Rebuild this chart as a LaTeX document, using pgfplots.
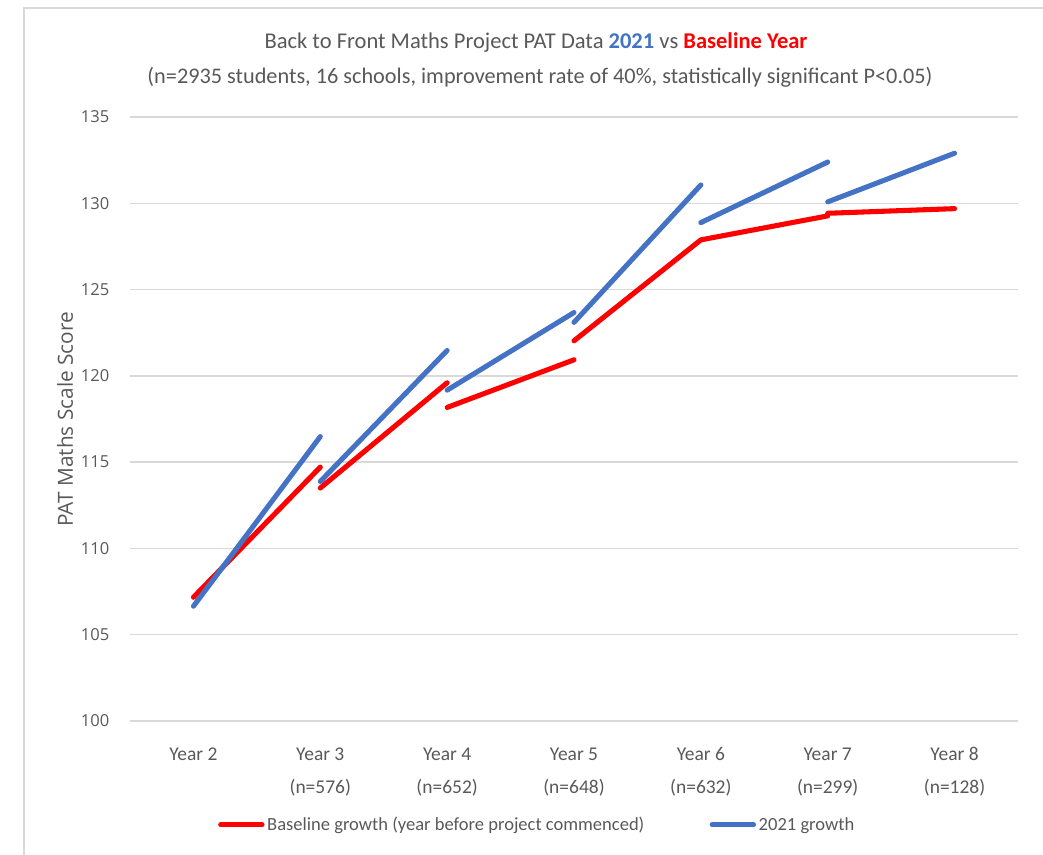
\documentclass[border=0pt]{standalone}
\usepackage{fontspec}
\setmainfont{Carlito}
\newfontfamily\osans{Open Sans}
\usepackage{pgfplots}
\usepackage{pgfplotstable}
\pgfplotsset{compat=1.18}
\definecolor{txtgray}{HTML}{595959}
\definecolor{gridgray}{HTML}{D9D9D9}
\definecolor{xlblue}{HTML}{4472C4}
\definecolor{xlred}{HTML}{FF0000}

\pgfplotstableread{
x y
0 107.17
1 114.71
nan nan
1 113.50
2 119.60
nan nan
2 118.17
3 120.93
nan nan
3 122.03
4 127.88
5 129.27
nan nan
5 129.42
6 129.69
}\baseline

\pgfplotstableread{
x y
0 106.65
1 116.48
nan nan
1 113.88
2 121.47
nan nan
2 119.17
3 123.67
nan nan
3 123.10
4 131.06
nan nan
4 128.88
5 132.39
nan nan
5 130.08
6 132.90
}\growth

\begin{document}
\begin{tikzpicture}
\useasboundingbox (0pt,0pt) rectangle (782.25pt,640.5pt);
\draw[gridgray, line width=0.9pt] (18pt,-10pt) -- (18pt,634.5pt) -- (800pt,634.5pt);
\begin{axis}[
  at={(97.5pt,99.75pt)}, anchor=south west,
  scale only axis,
  width=666pt, height=453pt,
  xmin=-0.5, xmax=6.5,
  ymin=100, ymax=135,
  ytick distance=5,
  xtick={0,1,2,3,4,5,6},
  xticklabels={\strut Year 2\\\mbox{}, \strut Year 3\\(n=576), \strut Year 4\\(n=652), \strut Year 5\\(n=648), \strut Year 6\\(n=632), \strut Year 7\\(n=299), \strut Year 8\\(n=128)},
  x tick label style={align=center, font=\fontsize{14.6}{25}\selectfont, text=txtgray, anchor=north, yshift=-8.3pt},
  y tick label style={font=\osans\fontsize{12.4}{14}\selectfont, text=txtgray, xshift=-12pt},
  /pgf/number format/assume math mode=true,
  axis line style={draw=none},
  tick style={draw=none},
  ymajorgrids,
  grid style={gridgray, line width=1.1pt},
  unbounded coords=jump,
  legend columns=2,
  legend style={draw=none, fill=none, at={(axis description cs:0.459,-0.172)}, anchor=center,
    font=\fontsize{13.9}{16}\selectfont, text=txtgray,
    /tikz/every even column/.append style={column sep=47pt}},
  legend image code/.code={\draw[#1, line width=3.8pt, line cap=round] (0pt,0pt) -- (31pt,0pt);},
  clip=false,
]
\addplot[xlred, line width=3.8pt, line cap=round, line join=round, no markers] table[x=x,y=y] {\baseline};
\addlegendentry{Baseline growth (year before project commenced)}
\addplot[xlblue, line width=3.8pt, line cap=round, line join=round, no markers] table[x=x,y=y] {\growth};
\addlegendentry{2021 growth}
\end{axis}
\node[text=txtgray, font=\osans\fontsize{15.6}{18}\selectfont, rotate=90] at (48.75pt,326pt) {PAT Maths Scale Score};
\node[text=txtgray, font=\fontsize{16.9}{20}\selectfont] at (402pt,608.25pt) {Back to Front Maths Project PAT Data \textcolor{xlblue}{\textbf{2021}} vs \textcolor{xlred}{\textbf{Baseline Year}}};
\node[text=txtgray, font=\fontsize{16.7}{20}\selectfont] at (405pt,582.75pt) {(n=2935 students, 16 schools, improvement rate of 40\%, statistically significant P<0.05)};
\end{tikzpicture}
\end{document}
